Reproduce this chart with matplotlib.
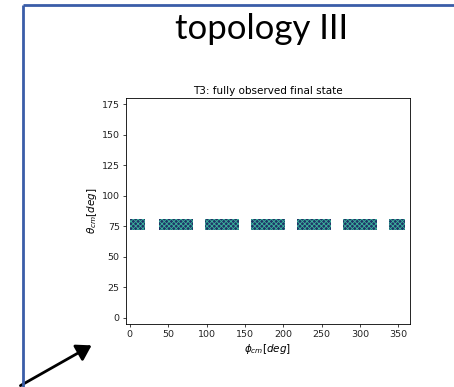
import matplotlib
matplotlib.use("Agg")
import matplotlib.pyplot as plt
from matplotlib.lines import Line2D
from matplotlib.patches import FancyArrowPatch

# ---- data ----
block_phi_start = [0, 38, 98, 158, 218, 278, 338]
block_phi_end = [20, 82, 142, 202, 262, 322, 358]
theta_low = 72
theta_high = 81
x_ticks = [0, 50, 100, 150, 200, 250, 300, 350]
y_ticks = [0, 25, 50, 75, 100, 125, 150, 175]
slide_title = "topology III"
plot_title = "T3: fully observed final state"
x_label = r"$\phi_{cm}[deg]$"
y_label = r"$\theta_{cm}[deg]$"

plt.rcParams["hatch.linewidth"] = 0.6

W, H = 454, 387
fig = plt.figure(figsize=(W / 100, H / 100), dpi=100)
fig.patch.set_facecolor("white")

# slide frame (blue border running off right and bottom)
frame_col = "#3A5DA8"
fig.add_artist(Line2D([23 / W, 23 / W], [0, 1 - 5 / H], transform=fig.transFigure,
                      color=frame_col, lw=2.0, solid_capstyle="butt"))
fig.add_artist(Line2D([23 / W, 1], [1 - 5 / H, 1 - 5 / H], transform=fig.transFigure,
                      color=frame_col, lw=2.0, solid_capstyle="butt"))

fig.text(262 / W, 1 - 39 / H, slide_title, ha="center", va="baseline",
         fontsize=25, family="Lato", color="black")

ax = fig.add_axes([126 / W, 1 - 324 / H, 284 / W, 226 / H])
widths = [e - s for s, e in zip(block_phi_start, block_phi_end)]
ax.bar(block_phi_start, theta_high - theta_low, width=widths, bottom=theta_low,
       align="edge", color="#1f3468", edgecolor="#3cb39c", hatch="xxxxxxx",
       linewidth=0)

ax.set_xlim(-5, 365)
ax.set_ylim(-5, 180)
ax.set_xticks(x_ticks)
ax.set_yticks(y_ticks)
ax.tick_params(labelsize=6.8, length=2.5, width=0.6, pad=2, colors="#222222")
for s in ax.spines.values():
    s.set_linewidth(0.6)
ax.set_title(plot_title, fontsize=7.5, pad=3)
ax.set_xlabel(x_label, fontsize=7.5, labelpad=2)
ax.set_ylabel(y_label, fontsize=7.5, labelpad=2)

# black arrow pointing into the slide
fig.add_artist(FancyArrowPatch(
    (18 / W, 1 - 387 / H), (94 / W, 1 - 344 / H), transform=fig.transFigure,
    arrowstyle="-|>,head_length=8,head_width=5", mutation_scale=1.1,
    color="black", lw=2))

fig.savefig("out.png", dpi=100, facecolor="white")
